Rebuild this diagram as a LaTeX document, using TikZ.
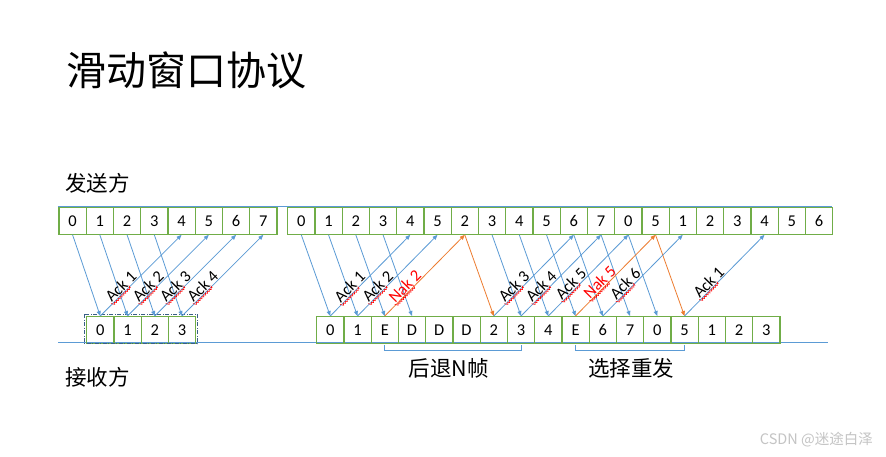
\documentclass[tikz,border=0pt]{standalone}
\usepackage{fontspec}
\setmainfont{Carlito}
\newfontfamily\cjk{Noto Sans CJK SC}
\usetikzlibrary{arrows.meta,calc,decorations.pathmorphing}
\definecolor{bxgreen}{HTML}{70AD47}
\definecolor{lnblue}{HTML}{5B9BD5}
\definecolor{nkorange}{HTML}{ED7D31}
\definecolor{nkred}{HTML}{FF0000}
\definecolor{dashblue}{HTML}{3A5F86}
\definecolor{wmgray}{HTML}{C4C4C4}
\tikzset{
  cell/.style={draw=bxgreen, line width=1.3pt, anchor=north west, inner sep=0pt,
    minimum width=27.25pt, minimum height=26.5pt, font=\fontsize{16.5}{16.5}\selectfont},
  baseline/.style={draw=lnblue, line width=0.9pt},
  dataarrow/.style={draw=lnblue, line width=0.8pt, -{Triangle[length=5pt,width=4pt]}},
  nakarrow/.style={draw=nkorange, line width=0.8pt, -{Triangle[length=5pt,width=4pt]}},
  acklab/.style={sloped, anchor=south, inner sep=0.6pt, font=\fontsize{16.5}{16.5}\selectfont},
  naklab/.style={acklab, text=nkred},
  squig/.style={draw=nkred, line width=0.55pt, decorate,
    decoration={zigzag, segment length=2.6pt, amplitude=0.9pt, raise=-2.2pt}},
  bracket/.style={draw=lnblue, line width=0.9pt},
  cjklab/.style={font=\cjk\fontsize{21.5}{21.5}\selectfont},
  dashrect/.style={draw=dashblue, line width=0.7pt, dash pattern=on 4pt off 1.5pt on 1pt off 1.5pt}
}
\newcommand\squigunder[1]{\draw[squig] (#1.base west) -- ($(#1.base west)!0.66!(#1.base east)$);}
\begin{document}
\begin{tikzpicture}[x=1pt,y=-1pt]
\useasboundingbox[fill=white] (0,0) rectangle (886,456);

\node[font=\cjk\fontsize{40}{40}\selectfont, anchor=west, inner sep=0pt] (title) at (66,70) {滑动窗口协议};
\node[cjklab, anchor=west, inner sep=0pt] (sendlab) at (65,183.5) {发送方};
\node[cjklab, anchor=west, inner sep=0pt] (recvlab) at (65,377.5) {接收方};

% sender / receiver time lines
\draw[baseline] (58.3,206.5) -- (832,206.5);
\draw[baseline] (58.3,342) -- (828,342);

% sender boxes
\foreach \t [count=\i from 0] in {0,1,2,3,4,5,6,7}
  \node[cell] (sA-\i) at ({58.3+27.25*\i},207) {\t};
\foreach \t [count=\i from 0] in {0,1,2,3,4,5,2,3,4,5,6,7,0,5,1,2,3,4,5,6}
  \node[cell] (sB-\i) at ({287+27.25*\i},207) {\t};
% receiver boxes
\foreach \t [count=\i from 0] in {0,1,2,3}
  \node[cell] (rA-\i) at ({86+27.25*\i},316) {\t};
\foreach \t [count=\i from 0] in {0,1,E,D,D,D,2,3,4,E,6,7,0,5,1,2,3}
  \node[cell] (rB-\i) at ({316+27.25*\i},316) {\t};

\draw[dashrect] (84,314) rectangle (197,343.5);

% group A
\foreach \i in {0,1,2,3}
  \draw[dataarrow] (sA-\i.south) -- (rA-\i.north);
\foreach \i/\j/\n in {0/4/1,1/5/2,2/6/3,3/7/4}{
  \draw[dataarrow] (rA-\i.north) -- node[acklab, pos=0.31] (ackA-\i) {Ack \n} (sA-\j.south);
  \squigunder{ackA-\i}
}

% group B data frames
\foreach \i in {0,1,2,3,7,8,9,10,11,12}
  \draw[dataarrow] (sB-\i.south) -- (rB-\i.north);
\draw[nakarrow] (sB-6.south) -- (rB-6.north);
\draw[nakarrow] (sB-13.south) -- (rB-13.north);

% group B acknowledgements
\foreach \i/\j/\n/\p in {0/4/1/0.3,1/5/2/0.31,6/10/3/0.31,7/11/4/0.31,8/12/5/0.34,10/14/6/0.34,13/17/1/0.36}{
  \draw[dataarrow] (rB-\i.north) -- node[acklab, pos=\p] (ackB-\i) {Ack \n} (sB-\j.south);
  \squigunder{ackB-\i}
}
\draw[nakarrow] (rB-2.north) -- node[naklab, pos=0.31] (nak2) {Nak 2} (sB-6.south);
\draw[nakarrow] (rB-9.north) -- node[naklab, pos=0.36] (nak5) {Nak 5} (sB-13.south);
\squigunder{nak2}
\squigunder{nak5}

% brackets
\draw[bracket] ([yshift=-1.5pt]rB-2.south) -- ++(0,5.5) -| ([yshift=-1.5pt]rB-7.south);
\draw[bracket] ([yshift=-1.5pt]rB-9.south) -- ++(0,5.5) -| ([yshift=-1.5pt]rB-13.south);
\node[cjklab] (gbn) at (449,368) {后退N帧};
\node[cjklab] (sr) at (631,368) {选择重发};

\node[font=\cjk\fontsize{14.5}{14.5}\selectfont, text=wmgray, anchor=east, inner sep=0pt] (wm) at (873,440) {CSDN @迷途白泽};
\end{tikzpicture}
\end{document}
